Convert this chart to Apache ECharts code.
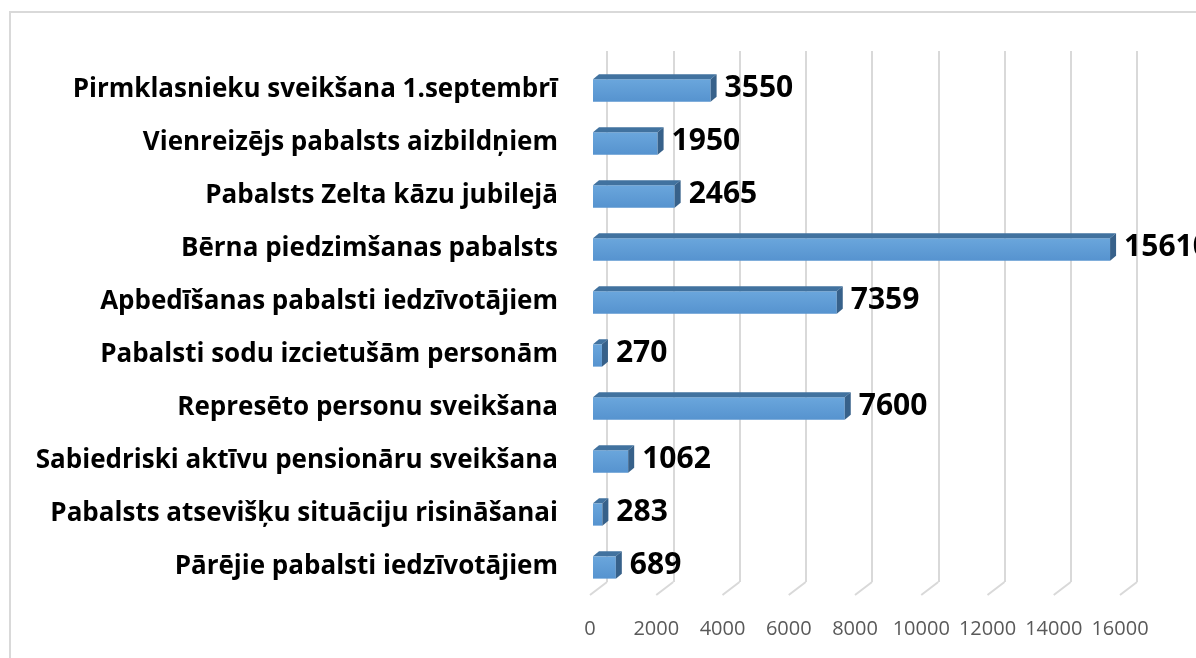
<!DOCTYPE html>
<html>
<head>
<meta charset="utf-8">
<script src="https://cdn.jsdelivr.net/npm/echarts@6/dist/echarts.min.js"></script>
<style>
  html, body { margin: 0; padding: 0; background: #fff; overflow: hidden; }
  #frame { position: absolute; left: 9px; top: 11px; width: 1400px; height: 900px; border: 2px solid #d9d9d9; box-sizing: border-box; }
  #main { position: absolute; left: 0; top: 0; width: 1196px; height: 658px; }
</style>
</head>
<body>
<div id="frame"></div>
<div id="main"></div>
<script>
// categories top -> bottom
var categories = [
  'Pirmklasnieku sveikšana 1.septembrī',
  'Vienreizējs pabalsts aizbildņiem',
  'Pabalsts Zelta kāzu jubilejā',
  'Bērna piedzimšanas pabalsts',
  'Apbedīšanas pabalsti iedzīvotājiem',
  'Pabalsti sodu izcietušām personām',
  'Represēto personu sveikšana',
  'Sabiedriski aktīvu pensionāru sveikšana',
  'Pabalsts atsevišķu situāciju risināšanai',
  'Pārējie pabalsti iedzīvotājiem'
];
var values = [3550, 1950, 2465, 15610, 7359, 270, 7600, 1062, 283, 689];
var ticks = [0, 2000, 4000, 6000, 8000, 10000, 12000, 14000, 16000];

var myChart = echarts.init(document.getElementById('main'));

// 3D look: wall offset & bar depth
var WALL_DX = 17, WALL_DY = -13;
var BAR_DX = 6, BAR_DY = -5;

function renderBar(params, api) {
  var idx = api.value(0);
  var val = api.value(1);
  var p0 = api.coord([0, idx]);
  var p1 = api.coord([val, idx]);
  var h = api.size([0, 1])[1] * 0.42;
  var x0 = p0[0] + 3, x1 = p1[0] + 3;
  var yT = p0[1] - h / 2 + 1, yB = yT + h;
  return {
    type: 'group',
    children: [
      { type: 'rect', shape: { x: x0, y: yT, width: x1 - x0, height: h },
        style: { fill: new echarts.graphic.LinearGradient(0, 0, 0, 1, [
          { offset: 0, color: '#6aa6dc' }, { offset: 1, color: '#5693cf' }]) } },
      { type: 'polygon', shape: { points: [[x0, yT], [x0 + BAR_DX, yT + BAR_DY], [x1 + BAR_DX, yT + BAR_DY], [x1, yT]] },
        style: { fill: '#41729f' } },
      { type: 'polygon', shape: { points: [[x1, yT], [x1 + BAR_DX, yT + BAR_DY], [x1 + BAR_DX, yB + BAR_DY], [x1, yB]] },
        style: { fill: '#37618a' } },
      { type: 'text', x: x1 + BAR_DX + 8, y: p0[1] - 1,
        style: { text: String(val), fontFamily: 'Open Sans', fontWeight: 'bold', fontSize: 30,
          fill: '#000', align: 'left', verticalAlign: 'middle' } }
    ]
  };
}

// floor diagonals from back wall to front
function renderFloor(params, api) {
  var v = api.value(0);
  var cs = params.coordSys;
  var x = api.coord([v, 0])[0];
  var yb = cs.y + cs.height;
  return {
    type: 'line',
    shape: { x1: x, y1: yb + 2, x2: x + WALL_DX, y2: yb + 2 + WALL_DY },
    style: { stroke: '#d9d9d9', lineWidth: 2 }
  };
}

var option = {
  animation: false,
  grid: [
    { left: 590, right: 76, top: 63, bottom: 65 },
    { left: 590 + WALL_DX, right: 76 - WALL_DX, top: 51, bottom: 76 }
  ],
  xAxis: [
    { gridIndex: 0, type: 'value', min: 0, max: 16000, interval: 2000,
      axisLine: { show: false }, axisTick: { show: false }, splitLine: { show: false },
      axisLabel: { color: '#595959', fontFamily: 'Open Sans', fontSize: 20, margin: 26,
        formatter: function (v) { return String(v); } } },
    { gridIndex: 1, type: 'value', min: 0, max: 16000, interval: 2000,
      axisLine: { show: false }, axisTick: { show: false }, axisLabel: { show: false },
      splitLine: { show: true, lineStyle: { color: '#d9d9d9', width: 2 } } }
  ],
  yAxis: [
    { gridIndex: 0, type: 'category', data: categories, inverse: true,
      axisLine: { show: false }, axisTick: { show: false },
      axisLabel: { color: '#000', fontFamily: 'Open Sans', fontWeight: 'bold', fontSize: 26, margin: 32 } },
    { gridIndex: 1, type: 'category', data: categories, inverse: true, show: false }
  ],
  series: [
    { type: 'custom', xAxisIndex: 0, yAxisIndex: 0, renderItem: renderFloor,
      data: ticks.map(function (t) { return [t]; }), silent: true, z: 1 },
    { type: 'custom', xAxisIndex: 0, yAxisIndex: 0, renderItem: renderBar,
      encode: { x: 1, y: 0 },
      data: values.map(function (v, i) { return [i, v]; }), z: 3 }
  ]
};

myChart.setOption(option);
window.addEventListener('resize', function () { myChart.resize(); });
</script>
</body>
</html>
